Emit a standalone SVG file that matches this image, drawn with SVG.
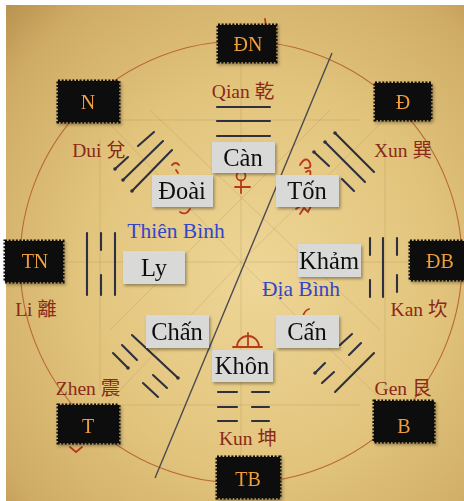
<svg xmlns="http://www.w3.org/2000/svg" width="464" height="501" viewBox="0 0 464 501">
  <defs>
    <radialGradient id="parchment" cx="0.55" cy="0.55" r="0.78">
      <stop offset="0" stop-color="#eed697"/>
      <stop offset="0.5" stop-color="#e2c47c"/>
      <stop offset="0.85" stop-color="#cfac66"/>
      <stop offset="1" stop-color="#b8914f"/>
    </radialGradient>
    <filter id="shadow" x="-20%" y="-20%" width="150%" height="160%">
      <feDropShadow dx="1.5" dy="2" stdDeviation="1.5" flood-color="#000" flood-opacity="0.35"/>
    </filter>
    <style>
      .dir rect { fill: #0b0a08; stroke: #0b0a08; stroke-width: 3; stroke-dasharray: 2 1.6; }
      .dir text { fill: #ef9e3c; font-family: "Liberation Serif", serif; font-size: 20px; text-anchor: middle; }
      .name rect { fill: #d9d9d7; }
      .name text { fill: #111; font-family: "Liberation Serif", serif; font-size: 24.5px; text-anchor: middle; }
      .cn { fill: #8a2a18; font-family: "Liberation Serif", "Noto Sans CJK SC", serif; font-size: 19.5px; text-anchor: middle; }
      .blue { fill: #3446c8; font-family: "Liberation Serif", serif; font-size: 21.5px; text-anchor: middle; }
      .tri { stroke: #2e3040; stroke-width: 2.1; stroke-linecap: round; fill: none; }
      .dot { fill: #2e3040; }
      .faint { stroke: #a88a52; stroke-width: 0.8; fill: none; opacity: 0.35; }
      .mark { stroke: #b83a1c; stroke-width: 1.8; fill: none; stroke-linecap: round; }
    </style>
  </defs>

  <!-- paper -->
  <rect x="0" y="0" width="464" height="501" fill="#ffffff"/>
  <rect x="6" y="5" width="458" height="496" fill="url(#parchment)"/>

  <!-- faint construction lines of the old chart -->
  <g id="construction">
    <line class="faint" x1="241" y1="262" x2="88" y2="101"/>
    <line class="faint" x1="241" y1="262" x2="403" y2="101"/>
    <line class="faint" x1="241" y1="262" x2="88" y2="424"/>
    <line class="faint" x1="241" y1="262" x2="403" y2="421"/>
    <line class="faint" x1="241" y1="262" x2="34" y2="262"/>
    <line class="faint" x1="241" y1="262" x2="436" y2="262"/>
    <line class="faint" x1="241" y1="262" x2="241" y2="60"/>
    <line class="faint" x1="241" y1="262" x2="241" y2="458"/>
    <line class="faint" x1="120" y1="120" x2="360" y2="120"/>
    <line class="faint" x1="120" y1="405" x2="360" y2="405"/>
    <line class="faint" x1="100" y1="140" x2="100" y2="390"/>
    <line class="faint" x1="385" y1="140" x2="385" y2="390"/>
    <line class="faint" x1="150" y1="110" x2="380" y2="330"/>
    <line class="faint" x1="110" y1="330" x2="330" y2="110"/>
  </g>

  <!-- outer circle and dividing line -->
  <g id="connectors">
    <circle cx="241" cy="262" r="221" fill="none" stroke="#b8683a" stroke-width="1.1"/>
    <line x1="332" y1="53" x2="155" y2="478" stroke="#4a4a52" stroke-width="1.4"/>
  </g>

  <!-- red marks -->
  <g id="marks">
    <circle class="mark" cx="241" cy="176" r="4.5"/>
    <line class="mark" x1="241" y1="181" x2="241" y2="193"/>
    <line class="mark" x1="235" y1="187" x2="250" y2="187"/>
    <path class="mark" d="M237,347 A11,11 0 0 1 259,347"/>
    <line class="mark" x1="233" y1="347" x2="262" y2="347"/>
    <line class="mark" x1="248" y1="333" x2="248" y2="347"/>
    <path class="mark" d="M300,165 q6,-10 10,-2 q2,6 -5,5 M306,172 q6,-4 4,4" stroke-width="1.3"/>
    <path class="mark" d="M300,214 l4,-6 l4,4 l3,-6 M296,209 l6,-4" stroke-width="1.3"/>
    <path class="mark" d="M172,165 q4,-4 7,0 M176,170 l2,3" stroke-width="1.2"/>
    <path class="mark" d="M180,212 q6,4 10,-3" stroke-width="1.2"/>
    <path class="mark" d="M303,316 q2,-6 6,-7" stroke-width="1.3"/>
    <path class="mark" d="M70,447 l6,5 l6,-5" stroke-width="1.3"/>
    <path class="mark" d="M265,19 l1,8" stroke-width="1.2"/>
  </g>

  <!-- trigrams -->
  <g id="trigram-qian">
    <line class="tri" x1="217" y1="107" x2="270" y2="107"/>
    <line class="tri" x1="217" y1="121" x2="270" y2="121"/>
    <line class="tri" x1="217" y1="136" x2="270" y2="136"/>
  </g>
  <g id="trigram-kun">
    <line class="tri" x1="218" y1="392" x2="237" y2="392"/>
    <line class="tri" x1="252" y1="392" x2="269" y2="392"/>
    <line class="tri" x1="218" y1="407" x2="237" y2="407"/>
    <line class="tri" x1="252" y1="407" x2="269" y2="407"/>
    <line class="tri" x1="218" y1="421" x2="237" y2="421"/>
    <line class="tri" x1="252" y1="421" x2="269" y2="421"/>
  </g>
  <g id="trigram-li">
    <line class="tri" x1="87" y1="233" x2="87" y2="295" stroke-width="1.6"/>
    <line class="tri" x1="101" y1="233" x2="101" y2="250" stroke-width="1.6"/>
    <line class="tri" x1="101" y1="275" x2="101" y2="295" stroke-width="1.6"/>
    <line class="tri" x1="115" y1="233" x2="115" y2="295" stroke-width="1.6"/>
  </g>
  <g id="trigram-kan">
    <line class="tri" x1="370" y1="238" x2="370" y2="255"/>
    <line class="tri" x1="370" y1="280" x2="370" y2="297"/>
    <line class="tri" x1="383" y1="238" x2="383" y2="297"/>
    <line class="tri" x1="397" y1="238" x2="397" y2="255"/>
    <line class="tri" x1="397" y1="275" x2="397" y2="292"/>
  </g>
  <g id="trigram-dui">
    <line class="tri" x1="138" y1="146" x2="154" y2="132"/>
    <line class="tri" x1="115" y1="169" x2="128" y2="157"/>
    <line class="tri" x1="123" y1="180" x2="163" y2="141"/>
    <line class="tri" x1="132" y1="191" x2="172" y2="150"/>
    <circle class="dot" cx="115" cy="169" r="1.8"/>
    <circle class="dot" cx="123" cy="180" r="1.8"/>
    <circle class="dot" cx="132" cy="191" r="1.8"/>
  </g>
  <g id="trigram-xun">
    <line class="tri" x1="335" y1="133" x2="374" y2="172"/>
    <line class="tri" x1="325" y1="142" x2="365" y2="182"/>
    <line class="tri" x1="314" y1="152" x2="329" y2="166"/>
    <line class="tri" x1="342" y1="179" x2="354" y2="191"/>
    <circle class="dot" cx="335" cy="133" r="1.8"/>
    <circle class="dot" cx="325" cy="142" r="1.8"/>
    <circle class="dot" cx="314" cy="152" r="1.8"/>
  </g>
  <g id="trigram-zhen">
    <line class="tri" x1="113" y1="353" x2="128" y2="368"/>
    <line class="tri" x1="143" y1="383" x2="158" y2="397"/>
    <line class="tri" x1="122" y1="345" x2="137" y2="360"/>
    <line class="tri" x1="153" y1="375" x2="167" y2="388"/>
    <line class="tri" x1="132" y1="335" x2="178" y2="378"/>
    <circle class="dot" cx="128" cy="368" r="1.8"/>
    <circle class="dot" cx="178" cy="378" r="1.8"/>
  </g>
  <g id="trigram-gen">
    <line class="tri" x1="315" y1="373" x2="325" y2="363"/>
    <line class="tri" x1="340" y1="345" x2="352" y2="334"/>
    <line class="tri" x1="322" y1="383" x2="334" y2="372"/>
    <line class="tri" x1="349" y1="355" x2="361" y2="343"/>
    <line class="tri" x1="335" y1="392" x2="374" y2="353"/>
    <circle class="dot" cx="315" cy="373" r="1.8"/>
  </g>

  <!-- transliterated names -->
  <g id="labels">
    <text class="cn" x="243" y="98">Qian 乾</text>
    <text class="cn" x="99" y="157">Dui 兌</text>
    <text class="cn" x="403" y="157">Xun 巽</text>
    <text class="cn" x="36" y="316">Li 離</text>
    <text class="cn" x="419" y="316">Kan 坎</text>
    <text class="cn" x="88" y="395">Zhen 震</text>
    <text class="cn" x="403" y="395">Gen 艮</text>
    <text class="cn" x="248" y="445">Kun 坤</text>
    <text class="blue" x="176" y="238">Thiên Bình</text>
    <text class="blue" x="301" y="296">Địa Bình</text>
  </g>

  <!-- direction boxes -->
  <g id="dir-DN" class="dir" filter="url(#shadow)"><rect x="218" y="25" width="58" height="37"/><text x="248" y="51">ĐN</text></g>
  <g id="dir-N" class="dir" filter="url(#shadow)"><rect x="58" y="81" width="61" height="41"/><text x="88" y="109">N</text></g>
  <g id="dir-D" class="dir" filter="url(#shadow)"><rect x="375" y="83" width="56" height="37"/><text x="403" y="109">Đ</text></g>
  <g id="dir-TN" class="dir" filter="url(#shadow)"><rect x="5" y="241" width="58" height="41"/><text x="35" y="268">TN</text></g>
  <g id="dir-DB" class="dir" filter="url(#shadow)"><rect x="410" y="241" width="54" height="39"/><text x="440" y="268">ĐB</text></g>
  <g id="dir-T" class="dir" filter="url(#shadow)"><rect x="58" y="405" width="61" height="38"/><text x="88" y="433">T</text></g>
  <g id="dir-B" class="dir" filter="url(#shadow)"><rect x="374" y="401" width="60" height="41"/><text x="404" y="433">B</text></g>
  <g id="dir-TB" class="dir" filter="url(#shadow)"><rect x="217" y="457" width="63" height="41"/><text x="248" y="486">TB</text></g>

  <!-- Vietnamese trigram names -->
  <g id="name-Can" class="name" filter="url(#shadow)"><rect x="212" y="142" width="63" height="31"/><text x="243" y="166">Càn</text></g>
  <g id="name-Doai" class="name" filter="url(#shadow)"><rect x="152" y="175" width="61" height="32"/><text x="182" y="199">Đoài</text></g>
  <g id="name-Ton" class="name" filter="url(#shadow)"><rect x="276" y="175" width="63" height="32"/><text x="307" y="199">Tốn</text></g>
  <g id="name-Ly" class="name" filter="url(#shadow)"><rect x="123" y="251" width="62" height="33"/><text x="154" y="276">Ly</text></g>
  <g id="name-Kham" class="name" filter="url(#shadow)"><rect x="298" y="244" width="63" height="33"/><text x="329" y="269">Khảm</text></g>
  <g id="name-Chan" class="name" filter="url(#shadow)"><rect x="146" y="315" width="63" height="33"/><text x="177" y="340">Chấn</text></g>
  <g id="name-Cansouth" class="name" filter="url(#shadow)"><rect x="276" y="315" width="63" height="33"/><text x="307" y="340">Cấn</text></g>
  <g id="name-Khon" class="name" filter="url(#shadow)"><rect x="212" y="350" width="61" height="32"/><text x="242" y="374">Khôn</text></g>
</svg>
